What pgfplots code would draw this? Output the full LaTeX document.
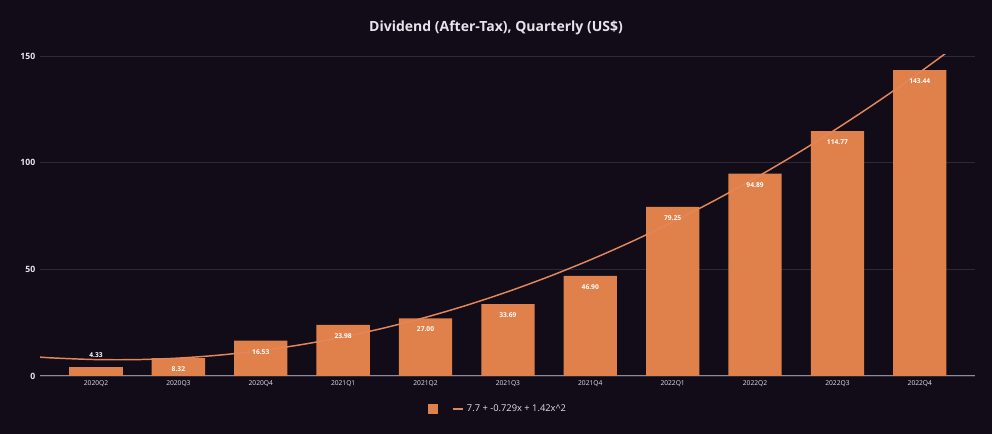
\documentclass[border=0pt]{standalone}
\usepackage{fontspec}
\setmainfont{Open Sans}
\usepackage{pgfplots}
\pgfplotsset{compat=1.18}
\definecolor{bg}{HTML}{110C18}
\definecolor{gridc}{HTML}{2E2938}
\definecolor{barc}{HTML}{E0804A}
\definecolor{trendc}{HTML}{E3875A}
\definecolor{txt}{HTML}{E6E3EA}
\definecolor{zeroc}{HTML}{8F8A99}
\begin{document}
\begin{tikzpicture}
 % 1px of the reference = 0.75pt
 \fill[bg] (0pt,0pt) rectangle (744pt,325.5pt);
 \node[font=\fontsize{10.5}{12}\selectfont\bfseries, text=txt] at (372pt,304.5pt) {Dividend (After-Tax), Quarterly (US\$)};
 \begin{axis}[
   at={(30pt,43.5pt)}, anchor=south west,
   scale only axis,
   width=701.25pt, height=240.75pt,
   xmin=-0.68, xmax=10.67,
   ymin=0, ymax=150.5,
   axis line style={draw=none},
   ytick={0,50,100,150},
   xtick={0,...,10},
   xticklabels={2020Q2,2020Q3,2020Q4,2021Q1,2021Q2,2021Q3,2021Q4,2022Q1,2022Q2,2022Q3,2022Q4},
   major tick length=0pt,
   ymajorgrids, grid style={gridc, line width=0.6pt},
   yticklabel style={font=\fontsize{6.5}{7}\selectfont\bfseries, text=txt},
   xticklabel style={font=\fontsize{5}{6}\selectfont, text=txt},
   /pgf/number format/assume math mode=true,
   legend style={at={(0.49,-0.103)}, anchor=center, draw=none, fill=none,
     text=txt, font=\fontsize{7}{8}\selectfont, legend columns=2,
     /tikz/every even column/.append style={column sep=6pt}},
   clip=true,
   ]
   \draw[color=zeroc, line width=0.8pt] (axis cs:-0.68,0) -- (axis cs:10.67,0);
   \addplot[ybar, bar width=40pt, bar shift=0pt, fill=barc, draw=none,
     legend image code/.code={\fill[barc] (0pt,-4pt) rectangle (8pt,4pt);},
     nodes near coords, point meta=explicit symbolic,
     every node near coord/.append style={anchor=north, yshift=-3pt,
       font=\fontsize{5}{6}\selectfont\bfseries, text=white}]
   coordinates {
     (1,8.32)[8.32] (2,16.53)[16.53] (3,23.98)[23.98] (4,27.00)[27.00]
     (5,33.69)[33.69] (6,46.90)[46.90] (7,79.25)[79.25] (8,94.89)[94.89]
     (9,114.77)[114.77] (10,143.44)[143.44]
   };
   \addlegendentry{}
   \addplot[trendc, line width=1.1pt, smooth, no markers,
     legend image code/.code={\draw[trendc, line width=1.5pt] (0pt,0pt) -- (8pt,0pt);}]
   coordinates {
     (-0.7,8.906) (-0.5,8.42) (0,7.70) (0.5,7.69) (1,8.391) (1.5,9.80)
     (2,11.92) (2.5,14.75) (3,18.29) (3.5,22.54) (4,27.50) (4.5,33.17)
     (5,39.56) (5.5,46.65) (6,54.45) (6.5,62.96) (7,72.18) (7.5,82.11)
     (8,92.75) (8.5,104.10) (9,116.16) (9.5,128.93) (10,142.41) (10.5,156.60)
   };
   \addlegendentry{7.7 + -0.729x + 1.42x\^{}2}
   \addplot[forget plot, ybar, bar width=40pt, bar shift=0pt, fill=barc, draw=none,
     nodes near coords, point meta=explicit symbolic,
     every node near coord/.append style={anchor=south, yshift=3pt,
       font=\fontsize{5}{6}\selectfont\bfseries, text=white}]
   coordinates {(0,4.33)[4.33]};
 \end{axis}
\end{tikzpicture}
\end{document}
